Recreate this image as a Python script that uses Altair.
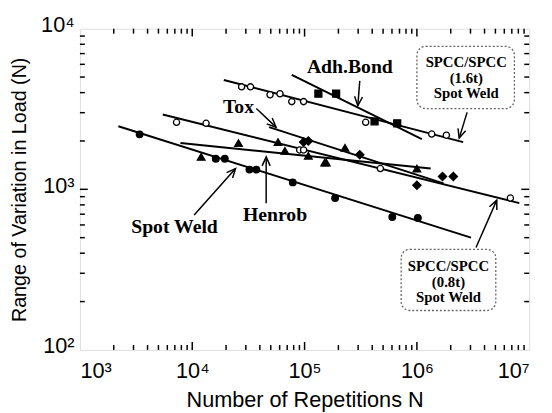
import altair as alt
import pandas as pd
import numpy as np

W, H = 456, 326

# ---------------- data ----------------
# Spot Weld (filled circles)
sw_N = [3400, 16200, 19500, 32300, 37200, 78500, 187000, 604000, 1020000]
sw_F = [2200, 1550, 1550, 1327, 1327, 1104, 882, 673, 664]
# Henrob (filled triangles)
hr_N = [12000, 25800, 58000, 66800, 108000, 151000, 156000, 229000, 1000000]
hr_F = [1592, 1941, 1968, 1734, 1618, 1466, 1466, 1811, 1346]
# Tox (filled diamonds)
tx_N = [98000, 108000, 310000, 1000000, 1690000, 2110000]
tx_F = [1968, 2000, 1641, 1059, 1202, 1202]
# Adh.Bond (filled squares)
ab_N = [132700, 191000, 420000, 668000]
ab_F = [3936, 3936, 2650, 2577]
# SPCC/SPCC 1.6t spot weld (open circles)
s16_N = [27500, 33000, 49300, 60400, 76900, 98000, 350000, 1355000, 1830000]
s16_F = [4345, 4345, 3880, 3936, 3516, 3516, 2613, 2208, 2174]
# SPCC/SPCC 0.8t spot weld (open circles)
s08_N = [7245, 13280, 90400, 98000, 473000, 6800000]
s08_F = [2613, 2577, 1758, 1758, 1346, 882]

# fitted lines (end points)
line_names = ["Spot Weld", "SPCC 1.6t", "Adh.Bond", "SPCC 0.8t", "Tox", "Henrob"]
line_N0 = [2200, 19100, 76900, 5460, 48300, 7850]
line_N1 = [3030000, 2580000, 1107000, 8170000, 1726000, 1327000]
line_F0 = [2472, 4797, 5152, 2924, 2438, 1941]
line_F1 = [500, 1968, 2056, 820, 1089, 1346]

# annotation labels
lab_text = ["Adh.Bond", "Tox", "Spot Weld", "Henrob"]
lab_N = [253000, 25800, 6950, 54600]
lab_F = [5768, 3228, 585, 692]

# arrows (tail -> head)
arr_N0 = [310000, 37200, 10400, 45500, 2800000, 3360000]
arr_F0 = [4733, 3184, 692, 820, 3013, 434]
arr_N1 = [298000, 55700, 24300, 45500, 2380000, 5140000]
arr_F1 = [3319, 2438, 1346, 1592, 2084, 857]

# boxed labels
box_N0 = [1000000, 724000]
box_N1 = [7380000, 5040000]
box_F0 = [7762, 423]
box_F1 = [3184, 176]
box_lines = [["SPCC/SPCC", "(1.6t)", "Spot  Weld"], ["SPCC/SPCC", "(0.8t)", "Spot  Weld"]]
box_textN = [2750000, 1910000]
box_textF = [[6180, 4932, 3993], [332, 265, 214]]

# axis ticks
x_major = [1e3, 1e4, 1e5, 1e6, 1e7]
y_major = [1e2, 1e3, 1e4]
x_minor = [m * 10 ** k for k in range(3, 7) for m in range(2, 10)]
y_minor = [m * 10 ** k for k in range(2, 4) for m in range(2, 10)]

# ---------------- helpers ----------------
xs = alt.Scale(type="log", domain=[1e3, 1e7], nice=False)
ys = alt.Scale(type="log", domain=[1e2, 1e4], nice=False)

sup = "['⁰','¹','²','³','⁴','⁵','⁶','⁷'][round(log(datum.value)/LN10)]"
x_axis = alt.Axis(
    values=x_major, labelExpr="'10' + " + sup, ticks=False, domain=False, grid=False,
    labelFont="Liberation Sans", labelFontSize=22, labelColor="black", labelPadding=11,
    title="Number of Repetitions N", titleFont="Liberation Sans", titleFontSize=22,
    titleFontWeight="normal", titleColor="black", titlePadding=8)
y_axis = alt.Axis(
    values=y_major, labelExpr="'10' + " + sup, ticks=False, domain=False, grid=False,
    labelFont="Liberation Sans", labelFontSize=22, labelColor="black", labelPadding=6,
    labelBaseline="middle", labelOffset=-4,
    title="Range of Variation in Load (N)", titleFont="Liberation Sans", titleFontSize=20,
    titleFontWeight="normal", titleColor="black", titlePadding=11)


def X(f="N"):
    return alt.X(f"{f}:Q", scale=xs, axis=x_axis)


def Y(f="F"):
    return alt.Y(f"{f}:Q", scale=ys, axis=y_axis)


def to_px(n, f):
    return (np.log10(n) - 3) * W / 4, (np.log10(f) - 2) * H / 2


def from_px(x, y):
    return 10 ** (x * 4 / W + 3), 10 ** (y * 2 / H + 2)


pts = pd.concat([
    pd.DataFrame({"N": sw_N, "F": sw_F, "kind": "fcircle"}),
    pd.DataFrame({"N": s16_N, "F": s16_F, "kind": "ocircle"}),
    pd.DataFrame({"N": s08_N, "F": s08_F, "kind": "ocircle"}),
    pd.DataFrame({"N": hr_N, "F": hr_F, "kind": "triangle"}),
    pd.DataFrame({"N": tx_N, "F": tx_F, "kind": "diamond"}),
    pd.DataFrame({"N": ab_N, "F": ab_F, "kind": "square"}),
])

lines = []
for i, nm in enumerate(line_names):
    lines.append({"name": nm, "o": 0, "N": line_N0[i], "F": line_F0[i]})
    lines.append({"name": nm, "o": 1, "N": line_N1[i], "F": line_F1[i]})
lines = pd.DataFrame(lines)

# arrows: shaft + open head
arr_rows = []
for i in range(len(arr_N0)):
    tx0, ty0 = to_px(arr_N0[i], arr_F0[i])
    hx, hy = to_px(arr_N1[i], arr_F1[i])
    d = np.array([hx - tx0, hy - ty0])
    d = d / np.linalg.norm(d)
    L, a = 10, np.radians(24)
    wings = []
    for s in (1, -1):
        c, sn = np.cos(s * a), np.sin(s * a)
        r = np.array([c * d[0] - sn * d[1], sn * d[0] + c * d[1]])
        wings.append((hx - L * r[0], hy - L * r[1]))
    g = f"a{i}"
    arr_rows.append({"g": g + "s", "o": 0, "N": arr_N0[i], "F": arr_F0[i]})
    arr_rows.append({"g": g + "s", "o": 1, "N": arr_N1[i], "F": arr_F1[i]})
    n1, f1 = from_px(*wings[0])
    n2, f2 = from_px(*wings[1])
    arr_rows.append({"g": g + "h", "o": 0, "N": n1, "F": f1})
    arr_rows.append({"g": g + "h", "o": 1, "N": arr_N1[i], "F": arr_F1[i]})
    arr_rows.append({"g": g + "h", "o": 2, "N": n2, "F": f2})
arrows = pd.DataFrame(arr_rows)

labels = pd.DataFrame({"t": lab_text, "N": lab_N, "F": lab_F})
boxes = pd.DataFrame({"N0": box_N0, "N1": box_N1, "F0": box_F0, "F1": box_F1})
btext = pd.DataFrame([
    {"t": box_lines[b][j], "N": box_textN[b], "F": box_textF[b][j]}
    for b in range(2) for j in range(3)
])

line_layer = alt.Chart(lines).mark_line(color="black", strokeWidth=2).encode(
    x=X(), y=Y(), detail="name:N", order="o:Q")


def pl(kind, shape, filled, size):
    return alt.Chart(pts[pts.kind == kind]).mark_point(
        shape=shape, filled=True, fill="black" if filled else "white",
        stroke="black", strokeWidth=1.3, size=size, opacity=1).encode(x=X(), y=Y())


points = (pl("fcircle", "circle", True, 45) + pl("ocircle", "circle", False, 40)
          + pl("triangle", "triangle-up", True, 60) + pl("diamond", "diamond", True, 70)
          + pl("square", "square", True, 50))

arrow_layer = alt.Chart(arrows).mark_line(color="black", strokeWidth=1.5).encode(
    x=X(), y=Y(), detail="g:N", order="o:Q")

label_layer = alt.Chart(labels).mark_text(
    font="Liberation Serif", fontWeight="bold", fontSize=20, color="black").encode(
    x=X(), y=Y(), text="t:N")

box_layer = alt.Chart(boxes).mark_rect(
    fill="white", stroke="#666", strokeDash=[2, 2], strokeWidth=1.3, cornerRadius=9).encode(
    x=X("N0"), x2="N1:Q", y=Y("F0"), y2="F1:Q")

btext_layer = alt.Chart(btext).mark_text(
    font="Liberation Serif", fontWeight="bold", fontSize=15, color="black").encode(
    x=X(), y=Y(), text="t:N")

# inward ticks on all four sides
xmaj = pd.DataFrame({"v": x_major[1:-1]})
xmin = pd.DataFrame({"v": x_minor})
ymaj = pd.DataFrame({"v": y_major[1:-1]})
ymin = pd.DataFrame({"v": y_minor})


def xticks(df, ln):
    b = alt.Chart(df).mark_rule(color="black", strokeWidth=1.5).encode(
        x=X("v"), y=alt.value(H), y2=alt.value(H - ln))
    t = alt.Chart(df).mark_rule(color="black", strokeWidth=1.5).encode(
        x=X("v"), y=alt.value(0), y2=alt.value(ln))
    return b + t


def yticks(df, ln):
    l = alt.Chart(df).mark_rule(color="black", strokeWidth=1.5).encode(
        y=Y("v"), x=alt.value(0), x2=alt.value(ln))
    r = alt.Chart(df).mark_rule(color="black", strokeWidth=1.5).encode(
        y=Y("v"), x=alt.value(W), x2=alt.value(W - ln))
    return l + r


chart = alt.layer(
    line_layer, points, arrow_layer, label_layer, box_layer, btext_layer,
    xticks(xmaj, 8), xticks(xmin, 5), yticks(ymaj, 8), yticks(ymin, 5)
).properties(
    width=W, height=H,
    autosize=alt.AutoSizeParams(type="none"),
    padding={"left": 73, "top": 18, "right": 15, "bottom": 61},
).configure_view(stroke="black", strokeWidth=2).configure(background="white")

chart.save("out.html", embed_options={"renderer": "svg", "actions": False})
